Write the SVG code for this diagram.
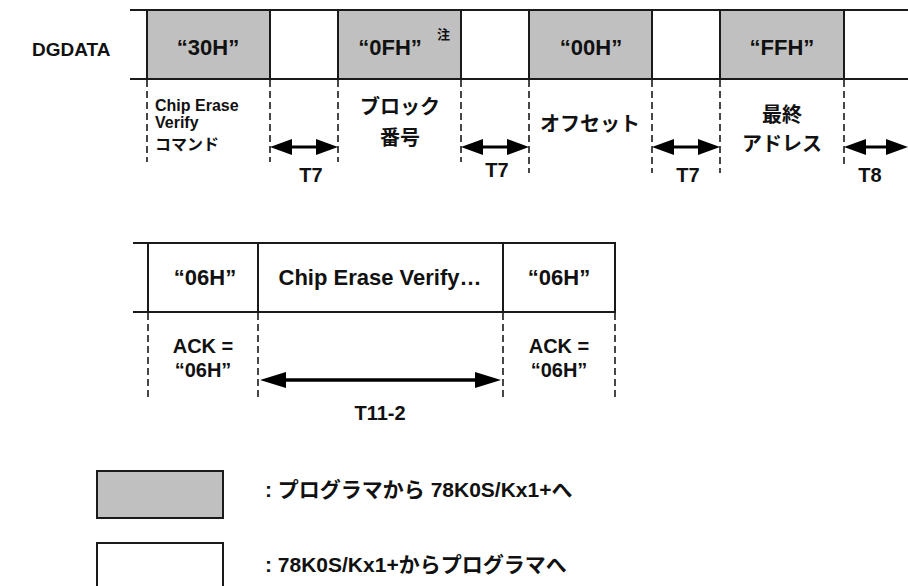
<svg xmlns="http://www.w3.org/2000/svg" width="908" height="586" viewBox="0 0 908 586">
<defs>
<style>
text{font-family:"Liberation Sans","Noto Sans CJK JP",sans-serif;font-weight:bold;fill:#111;}
.big{font-size:22px;text-anchor:middle;}
.jp{font-size:20px;text-anchor:middle;}
.mid{font-size:20px;text-anchor:middle;}
.sm{font-size:16px;}
.note{font-size:13px;}
.leg{font-size:21px;}
.gray{fill:#c0c0c0;stroke:#1a1a1a;stroke-width:2;}
.white{fill:#fff;stroke:#1a1a1a;stroke-width:2;}
.hl{stroke:#1a1a1a;stroke-width:2;fill:none;}
.dash{stroke:#1a1a1a;stroke-width:1.6;stroke-dasharray:7 4;fill:none;}
.arr{stroke:#000;stroke-width:3;fill:none;marker-start:url(#ah);marker-end:url(#ah);}
.arrL{stroke:#000;stroke-width:3.5;fill:none;marker-start:url(#ahL);marker-end:url(#ahL);}
</style>
<marker id="ah" viewBox="0 0 22 16" refX="12" refY="8" markerWidth="22" markerHeight="16" markerUnits="userSpaceOnUse" orient="auto-start-reverse">
<path d="M0,0 L22,8 L0,16 Z" fill="#000"/>
</marker>
<marker id="ahL" viewBox="0 0 26 16" refX="14" refY="8" markerWidth="26" markerHeight="16" markerUnits="userSpaceOnUse" orient="auto-start-reverse">
<path d="M0,0 L26,8 L0,16 Z" fill="#000"/>
</marker>
</defs>
<rect width="908" height="586" fill="#fff"/>

<text x="32" y="56" style="font-size:19px">DGDATA</text>

<g id="n30H"><rect class="gray" x="147" y="10" width="123" height="69"/><text class="big" x="208" y="55">“30H”</text></g>
<g id="gap1"><rect class="white" x="270" y="10" width="68" height="69"/></g>
<g id="n0FH"><rect class="gray" x="338" y="10" width="123" height="69"/><text class="big" x="390" y="55">“0FH”</text><text class="note" x="437" y="39">注</text></g>
<g id="gap2"><rect class="white" x="461" y="10" width="68" height="69"/></g>
<g id="n00H"><rect class="gray" x="529" y="10" width="123" height="69"/><text class="big" x="591" y="55">“00H”</text></g>
<g id="gap3"><rect class="white" x="652" y="10" width="68" height="69"/></g>
<g id="nFFH"><rect class="gray" x="720" y="10" width="124" height="69"/><text class="big" x="782" y="55">“FFH”</text></g>
<g id="gap4"><rect class="white" x="844" y="10" width="70" height="69"/></g>
<line class="hl" x1="130" y1="10" x2="908" y2="10"/>
<line class="hl" x1="130" y1="79" x2="908" y2="79"/>

<g id="guides-top">
<line class="dash" x1="147" y1="80" x2="147" y2="162"/>
<line class="dash" x1="270" y1="80" x2="270" y2="162"/>
<line class="dash" x1="338" y1="80" x2="338" y2="162"/>
<line class="dash" x1="461" y1="80" x2="461" y2="162"/>
<line class="dash" x1="529" y1="80" x2="529" y2="173"/>
<line class="dash" x1="652" y1="80" x2="652" y2="173"/>
<line class="dash" x1="720" y1="80" x2="720" y2="173"/>
<line class="dash" x1="844" y1="80" x2="844" y2="167"/>
</g>

<g id="lbl-cmd"><text class="sm" x="155" y="111">Chip Erase</text><text class="sm" x="155" y="128">Verify</text><text class="sm" x="155" y="150">コマンド</text></g>
<g id="lbl-block"><text class="jp" x="400" y="114">ブロック</text><text class="jp" x="400" y="145">番号</text></g>
<g id="lbl-offset"><text class="jp" x="590" y="131">オフセット</text></g>
<g id="lbl-end"><text class="jp" x="782" y="122">最終</text><text class="jp" x="782" y="151">アドレス</text></g>

<g id="connectors">
<line class="arr" x1="280" y1="147" x2="328" y2="147"/>
<line class="arr" x1="471" y1="147" x2="519" y2="147"/>
<line class="arr" x1="662" y1="147" x2="710" y2="147"/>
<line class="arr" x1="854" y1="147" x2="898" y2="147"/>
<line class="arrL" x1="272" y1="380" x2="489" y2="380"/>
</g>
<text class="mid" x="311" y="182">T7</text>
<text class="mid" x="497" y="177">T7</text>
<text class="mid" x="688" y="182">T7</text>
<text class="mid" x="870" y="182">T8</text>

<g id="ack1"><rect class="white" x="148" y="243" width="110" height="69"/><text class="big" x="205" y="285">“06H”</text></g>
<g id="verify"><rect class="white" x="258" y="243" width="245" height="69"/><text class="big" x="380" y="285">Chip Erase Verify…</text></g>
<g id="ack2"><rect class="white" x="503" y="243" width="112" height="69"/><text class="big" x="559" y="285">“06H”</text></g>
<line class="hl" x1="133" y1="243" x2="615" y2="243"/>
<line class="hl" x1="133" y1="312" x2="615" y2="312"/>

<g id="guides-bottom">
<line class="dash" x1="148" y1="313" x2="148" y2="397"/>
<line class="dash" x1="258" y1="313" x2="258" y2="397"/>
<line class="dash" x1="503" y1="313" x2="503" y2="397"/>
<line class="dash" x1="615" y1="313" x2="615" y2="397"/>
</g>
<g id="lbl-ack1"><text class="mid" x="203" y="353">ACK =</text><text class="mid" x="203" y="377">“06H”</text></g>
<g id="lbl-ack2"><text class="mid" x="559" y="353">ACK =</text><text class="mid" x="559" y="377">“06H”</text></g>
<text class="mid" x="380" y="420">T11-2</text>

<g id="legend-gray"><rect class="gray" x="97" y="471" width="126" height="47"/><text class="leg" x="265" y="497">: プログラマから 78K0S/Kx1+へ</text></g>
<g id="legend-white"><rect class="white" x="97" y="543" width="126" height="50"/><text class="leg" x="265" y="572">: 78K0S/Kx1+からプログラマへ</text></g>
</svg>
